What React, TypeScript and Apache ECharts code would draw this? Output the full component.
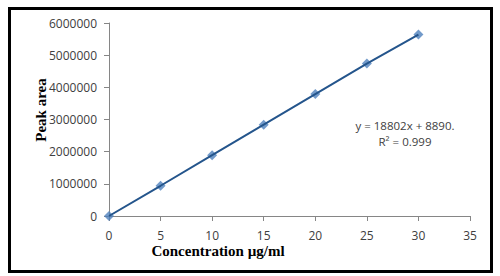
import React, { useEffect, useRef } from "react";
import * as echarts from "echarts";

const concentrations = [0, 5, 10, 15, 20, 25, 30];
const peakAreas = [0, 940000, 1890000, 2840000, 3790000, 4740000, 5640000];
const xTicks = { min: 0, max: 35, interval: 5 };
const yTicks = { min: 0, max: 6000000, interval: 1000000 };
const xTitle = "Concentration µg/ml";
const yTitle = "Peak area";
const equationLines = ["y = 18802x + 8890.", "R² = 0.999"];

export default function App() {
  const ref = useRef<HTMLDivElement>(null);
  useEffect(() => {
    if (!ref.current) return;
    const chart = echarts.init(ref.current, null, { renderer: "svg" });
    const pts = concentrations.map((c, i) => [c, peakAreas[i]]);
    const labelFont = { fontFamily: "Open Sans", fontSize: 12, color: "#404040" };
    chart.setOption({
      animation: false,
      backgroundColor: "#ffffff",
      grid: { left: 109, right: 30, top: 23, bottom: 60, containLabel: false },
      xAxis: {
        type: "value",
        min: xTicks.min,
        max: xTicks.max,
        interval: xTicks.interval,
        axisLine: { lineStyle: { color: "#868686", width: 1 } },
        axisTick: { show: true, length: 5, lineStyle: { color: "#868686" } },
        splitLine: { show: false },
        axisLabel: { ...labelFont, margin: 13 },
      },
      yAxis: {
        type: "value",
        min: yTicks.min,
        max: yTicks.max,
        interval: yTicks.interval,
        axisLine: { show: true, lineStyle: { color: "#868686", width: 1 } },
        axisTick: { show: true, length: 5, lineStyle: { color: "#868686" } },
        splitLine: { show: false },
        axisLabel: { ...labelFont, margin: 12, formatter: (v: number) => String(v) },
      },
      series: [
        {
          type: "scatter",
          data: pts,
          symbol: "diamond",
          symbolSize: 10,
          itemStyle: { color: "#4F81BD" },
          z: 2,
        },
        {
          type: "line",
          data: pts,
          showSymbol: false,
          lineStyle: { color: "#24558C", width: 2 },
          z: 3,
        },
      ],
      graphic: [
        {
          type: "rect",
          shape: { x: 9.5, y: 8.5, width: 482, height: 263 },
          style: { fill: "none", stroke: "#000000", lineWidth: 3 },
          z: 100,
        },
        {
          type: "text",
          x: 41,
          y: 110,
          rotation: Math.PI / 2,
          style: {
            text: yTitle,
            font: "bold 15px 'Liberation Serif'",
            fill: "#000000",
            align: "center",
            verticalAlign: "middle",
          },
        },
        {
          type: "text",
          x: 218,
          y: 251,
          style: {
            text: xTitle,
            font: "bold 15px 'Liberation Serif'",
            fill: "#000000",
            align: "center",
            verticalAlign: "middle",
          },
        },
        {
          type: "text",
          x: 405,
          y: 125,
          style: {
            text: equationLines[0],
            font: "11.5px 'Open Sans'",
            fill: "#404040",
            align: "center",
            verticalAlign: "middle",
          },
        },
        {
          type: "text",
          x: 405,
          y: 141,
          style: {
            text: equationLines[1],
            font: "11.5px 'Open Sans'",
            fill: "#404040",
            align: "center",
            verticalAlign: "middle",
          },
        },
      ],
    });
    return () => chart.dispose();
  }, []);
  return (
    <div
      ref={ref}
      style={{ position: "fixed", left: 0, top: 0, width: 500, height: 276 }}
    />
  );
}
